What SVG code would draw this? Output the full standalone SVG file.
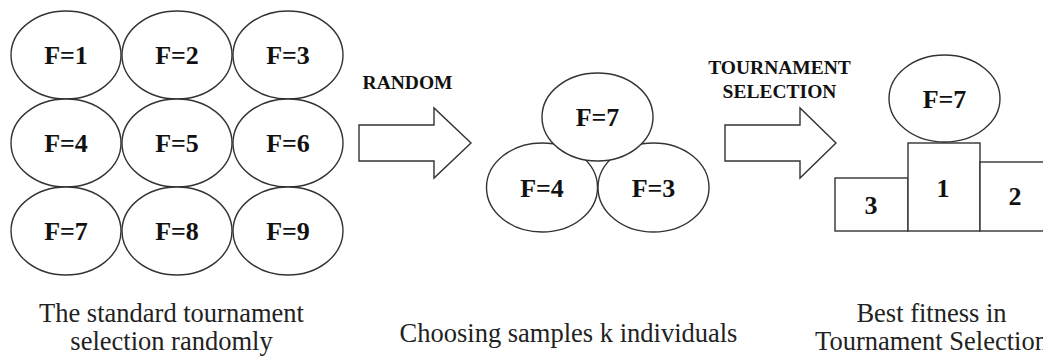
<svg xmlns="http://www.w3.org/2000/svg" width="1043" height="360" viewBox="0 0 1043 360">
<style>
.n{fill:#fff;stroke:#333;stroke-width:1.4}
.b{font-weight:bold;fill:#111;text-anchor:middle}
.f{font-size:26px}
.h{font-size:19.5px}
.c{font-size:26.5px;fill:#222;text-anchor:middle}
.arr{fill:#fff;stroke:#333;stroke-width:1.4;stroke-linejoin:miter}
</style>
<rect width="1043" height="360" fill="#fff"/>
<g font-family="'Liberation Serif', 'Times New Roman', Times, 'DejaVu Serif', serif">
<g id="grid">
<g id="n1"><ellipse class="n" cx="66" cy="55" rx="55" ry="44"/><text class="b f" x="66" y="64">F=1</text></g>
<g id="n2"><ellipse class="n" cx="177" cy="55" rx="55" ry="44"/><text class="b f" x="177" y="64">F=2</text></g>
<g id="n3"><ellipse class="n" cx="288" cy="55" rx="55" ry="44"/><text class="b f" x="288" y="64">F=3</text></g>
<g id="n4"><ellipse class="n" cx="66" cy="143" rx="55" ry="44"/><text class="b f" x="66" y="152">F=4</text></g>
<g id="n5"><ellipse class="n" cx="177" cy="143" rx="55" ry="44"/><text class="b f" x="177" y="152">F=5</text></g>
<g id="n6"><ellipse class="n" cx="288" cy="143" rx="55" ry="44"/><text class="b f" x="288" y="152">F=6</text></g>
<g id="n7"><ellipse class="n" cx="66" cy="231" rx="55" ry="44"/><text class="b f" x="66" y="240">F=7</text></g>
<g id="n8"><ellipse class="n" cx="177" cy="231" rx="55" ry="44"/><text class="b f" x="177" y="240">F=8</text></g>
<g id="n9"><ellipse class="n" cx="288" cy="231" rx="55" ry="44"/><text class="b f" x="288" y="240">F=9</text></g>
</g>
<g id="sample">
<g id="s4"><ellipse class="n" cx="542" cy="187.5" rx="55.5" ry="44.5"/><text class="b f" x="542" y="196.5">F=4</text></g>
<g id="s3"><ellipse class="n" cx="653.5" cy="187.5" rx="55.5" ry="44.5"/><text class="b f" x="653.5" y="196.5">F=3</text></g>
<g id="s7"><ellipse class="n" cx="597.5" cy="117" rx="55.5" ry="44"/><text class="b f" x="597.5" y="126">F=7</text></g>
</g>
<g id="podium">
<g id="p3"><rect class="n" x="835" y="178" width="73" height="53"/><text class="b f" x="871" y="214">3</text></g>
<g id="p1"><rect class="n" x="908" y="143" width="72" height="88"/><text class="b f" x="943" y="197">1</text></g>
<g id="p2"><rect class="n" x="980" y="162" width="75" height="69"/><text class="b f" x="1015" y="205">2</text></g>
<g id="winner"><ellipse class="n" cx="944.5" cy="98.5" rx="55.5" ry="43.5"/><text class="b f" x="944.5" y="107.5">F=7</text></g>
</g>
<g id="connectors">
<polygon class="arr" points="359,125 434,125 434,108 471,143 434,178 434,161 359,161"/>
<polygon class="arr" points="725,125 800,125 800,108 836,143 800,178 800,161 725,161"/>
<text class="b h" x="407.5" y="89">RANDOM</text>
<text class="b h" x="779.5" y="74">TOURNAMENT</text>
<text class="b h" x="779.5" y="98">SELECTION</text>
</g>
<g id="captions">
<text class="c" x="171.5" y="322">The standard tournament</text>
<text class="c" x="171.5" y="350">selection randomly</text>
<text class="c" x="568.5" y="342">Choosing samples k individuals</text>
<text class="c" x="931.5" y="322">Best fitness in</text>
<text class="c" x="931.5" y="350">Tournament Selection</text>
</g>
</g>
</svg>
